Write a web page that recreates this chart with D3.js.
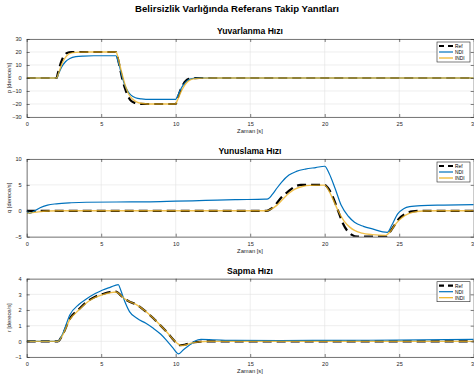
<!DOCTYPE html>
<html><head><meta charset="utf-8">
<script src="https://cdn.jsdelivr.net/npm/d3@7"></script>
<style>body{margin:0;background:#fff}svg{display:block}text{font-family:"Liberation Sans",Arial,sans-serif}</style>
</head><body>
<script>
// ---- data (time [s], value [deg/s]) ----
const xTicks = [0,5,10,15,20,25,30];
const seriesNames = ["Ref","NDI","INDI"];
const titles = ["Yuvarlanma Hızı","Yunuslama Hızı","Sapma Hızı"];
const yLabels = ["p [derece/s]","q [derece/s]","r [derece/s]"];
const pTicks = [-30,-20,-10,0,10,20,30];
const qTicks = [-5,0,5,10];
const rTicks = [-1,0,1,2,3,4];

const pRef = [[0,0],[2,0],[2.1,4],[2.3,12],[2.5,17],[2.7,19.3],[3,20],[6,20],[6.1,16],[6.25,8],[6.4,0],[6.6,-8],[6.8,-14],[7.0,-17.5],[7.3,-19.3],[7.6,-19.9],[8,-20],[10,-20],[10.1,-16.5],[10.3,-10],[10.5,-5],[10.7,-2],[10.9,-0.7],[11.2,-0.1],[11.6,0],[30,0]];
const pNDI = [[0,0],[2,0],[2.15,3.5],[2.35,8.5],[2.6,12.5],[2.9,15],[3.3,16.4],[3.8,16.9],[4.5,17.1],[6,17.1],[6.1,14],[6.25,8],[6.4,1],[6.6,-6],[6.8,-10.5],[7.0,-13.2],[7.3,-15.2],[7.7,-16.1],[8.3,-16.5],[10,-16.5],[10.1,-14.5],[10.3,-9.5],[10.5,-5.5],[10.7,-2.8],[10.9,-1.2],[11.2,-0.3],[11.6,0],[30,0]];
const pINDI = [[0,0],[2,0],[2.15,4],[2.35,10.5],[2.55,15],[2.8,18.3],[3.1,19.5],[3.6,19.9],[4.2,20],[6,20],[6.1,17],[6.25,10],[6.45,1],[6.65,-7],[6.85,-12.5],[7.1,-16.2],[7.4,-18.5],[7.8,-19.6],[8.4,-20],[10,-20],[10.1,-17.5],[10.3,-12],[10.5,-7.5],[10.7,-4],[10.95,-1.6],[11.3,-0.5],[11.8,-0.1],[12.5,0],[30,0]];

const qRef = [[0,0],[16.1,0],[16.4,0.4],[16.7,1.2],[17.1,2.6],[17.5,3.6],[17.9,4.5],[18.4,5],[20,5],[20.2,4.5],[20.5,3.0],[20.9,0],[21.2,-2.3],[21.5,-3.8],[21.8,-4.6],[22.2,-5],[24.1,-5],[24.4,-4],[24.7,-2.7],[25.0,-1.5],[25.4,-0.6],[25.9,-0.1],[26.5,0],[30,0]];
const qNDI = [[0,0],[0.2,-0.5],[0.5,-0.1],[0.9,0.6],[1.4,1.1],[2,1.35],[3,1.55],[4,1.65],[6,1.7],[8,1.72],[10,1.85],[12,2.0],[14,2.15],[16,2.25],[16.2,2.3],[16.5,3.2],[16.8,4.4],[17.1,5.5],[17.6,6.9],[18.1,7.6],[18.7,8.05],[19.4,8.35],[20,8.6],[20.3,7.2],[20.7,4.3],[21.1,1.1],[21.6,-1.1],[22.0,-2.2],[22.6,-3.0],[23.2,-3.5],[24.2,-4.15],[24.5,-2.8],[24.9,-0.6],[25.3,0.4],[25.7,0.8],[26.5,1.0],[28,1.1],[30,1.2]];
const qINDI = [[0,-0.5],[0.3,-0.4],[0.8,-0.2],[1.5,-0.05],[2.2,0],[16.1,0],[16.4,0.3],[16.8,1.1],[17.2,2.3],[17.6,3.4],[18,4.2],[18.5,4.7],[19,4.9],[20,4.95],[20.2,4.3],[20.5,2.6],[20.9,0],[21.3,-2],[21.7,-3.2],[22.0,-3.8],[22.5,-4.3],[23.2,-4.6],[24.1,-4.75],[24.4,-4.0],[24.7,-2.8],[25.0,-1.8],[25.4,-0.9],[25.9,-0.3],[26.6,-0.05],[27.5,0],[30,0]];

const rRef = [[0,0],[2.1,0],[2.4,0.4],[2.9,1.45],[3.5,2.05],[4.0,2.5],[4.6,2.85],[5.1,3.02],[5.6,3.15],[6.0,3.18],[6.3,2.95],[6.6,2.7],[6.9,2.53],[7.3,2.38],[7.6,2.2],[8.0,1.9],[8.5,1.47],[9.0,1.0],[9.4,0.6],[9.8,0.15],[10.1,-0.15],[10.3,-0.25],[10.6,-0.22],[11.0,-0.1],[11.5,-0.03],[12,0],[30,0]];
const rNDI = [[0,0],[2.1,0],[2.4,0.45],[2.9,1.7],[3.5,2.35],[4.0,2.7],[4.6,3.05],[5.1,3.28],[5.6,3.45],[6.15,3.62],[6.3,3.3],[6.5,2.75],[6.9,1.9],[7.4,1.47],[8.0,1.15],[8.5,0.83],[9.0,0.45],[9.4,0.05],[9.8,-0.4],[10.2,-0.8],[10.5,-0.55],[11.0,-0.19],[11.3,0.02],[11.7,0.12],[12.5,0.1],[14,0.06],[17,0.05],[20,0.06],[25,0.08],[30,0.12]];
const rINDI = [[0,0],[2.1,0],[2.4,0.38],[2.9,1.4],[3.5,2.0],[4.0,2.45],[4.6,2.8],[5.1,2.98],[5.6,3.1],[6.0,3.15],[6.3,2.95],[6.6,2.7],[6.9,2.53],[7.3,2.38],[7.6,2.2],[8.0,1.9],[8.5,1.47],[9.0,1.0],[9.4,0.6],[9.8,0.15],[10.1,-0.12],[10.4,-0.27],[10.7,-0.22],[11.1,-0.1],[11.6,-0.03],[12.2,0],[30,0]];

const panels = [
  {data:[pRef,pNDI,pINDI], ticks:pTicks, dom:[-30,30], top:39, bot:117},
  {data:[qRef,qNDI,qINDI], ticks:qTicks, dom:[-5,10], top:159, bot:236.7},
  {data:[rRef,rNDI,rINDI], ticks:rTicks, dom:[-1,4], top:278.7, bot:357}
];
const colors = ["#000000","#0072BD","#EDB120"];

const W=474,H=383, L=26.7, R=473.7;
const svg = d3.select("body").append("svg").attr("width",W).attr("height",H);
svg.append("text").attr("x",237).attr("y",12).attr("text-anchor","middle")
  .attr("font-weight","bold").attr("font-size",9.6).attr("fill","#000").text("Belirsizlik Varlığında Referans Takip Yanıtları");

const x = d3.scaleLinear().domain([0,30]).range([L,R]);
const fmt = d3.format("d");

panels.forEach((P,i)=>{
  const y = d3.scaleLinear().domain(P.dom).range([P.bot,P.top]);
  const g = svg.append("g");
  // grid
  g.selectAll(".gx").data(xTicks).join("line").attr("x1",d=>x(d)).attr("x2",d=>x(d))
    .attr("y1",P.top).attr("y2",P.bot).attr("stroke","#e3e3e3").attr("stroke-width",0.6);
  g.selectAll(".gy").data(P.ticks).join("line").attr("x1",L).attr("x2",R)
    .attr("y1",d=>y(d)).attr("y2",d=>y(d)).attr("stroke","#e3e3e3").attr("stroke-width",0.6);
  // lines
  const clipId="clip"+i;
  svg.append("clipPath").attr("id",clipId).append("rect").attr("x",L).attr("y",P.top).attr("width",R-L).attr("height",P.bot-P.top);
  const line = d3.line().x(d=>x(d[0])).y(d=>y(d[1])).curve(d3.curveMonotoneX);
  const lg = g.append("g").attr("clip-path",`url(#${clipId})`);
  lg.append("path").attr("d",line(P.data[0])).attr("fill","none").attr("stroke",colors[0]).attr("stroke-width",2.2).attr("stroke-dasharray","9,5");
  lg.append("path").attr("d",line(P.data[1])).attr("fill","none").attr("stroke",colors[1]).attr("stroke-width",1.2);
  lg.append("path").attr("d",line(P.data[2])).attr("fill","none").attr("stroke",colors[2]).attr("stroke-width",1.4).attr("stroke-opacity",0.8);
  // axes
  const ax = g.append("g").attr("transform",`translate(0,${P.bot})`)
    .call(d3.axisBottom(x).tickValues(xTicks).tickFormat(fmt).tickSizeInner(-3).tickSizeOuter(0).tickPadding(5));
  const axT = g.append("g").attr("transform",`translate(0,${P.top})`)
    .call(d3.axisTop(x).tickValues(xTicks).tickSizeInner(-3).tickSizeOuter(0).tickFormat(""));
  const ay = g.append("g").attr("transform",`translate(${L},0)`)
    .call(d3.axisLeft(y).tickValues(P.ticks).tickFormat(fmt).tickSizeInner(-3).tickSizeOuter(0).tickPadding(5));
  const ayR = g.append("g").attr("transform",`translate(${R},0)`)
    .call(d3.axisRight(y).tickValues(P.ticks).tickSizeInner(-3).tickSizeOuter(0).tickFormat(""));
  [ax,axT,ay,ayR].forEach(a=>{
    a.select(".domain").attr("stroke","#262626").attr("stroke-width",0.6);
    a.selectAll(".tick line").attr("stroke","#262626").attr("stroke-width",0.6);
    a.selectAll("text").attr("font-size",5.6).attr("fill","#262626").attr("font-family","Liberation Sans, Arial, sans-serif");
  });
  // titles
  svg.append("text").attr("x",250).attr("y",P.top-5).attr("text-anchor","middle")
    .attr("font-weight","bold").attr("font-size",8.6).attr("fill","#000").text(titles[i]);
  svg.append("text").attr("x",250).attr("y",P.bot+16).attr("text-anchor","middle")
    .attr("font-size",5.8).attr("fill","#262626").text("Zaman [s]");
  svg.append("text").attr("transform",`translate(11,${(P.top+P.bot)/2}) rotate(-90)`).attr("text-anchor","middle")
    .attr("font-size",5.8).attr("fill","#262626").text(yLabels[i]);
  // legend
  const lx=437, ly=P.top+3, lw=33, lh=20;
  const leg = svg.append("g");
  leg.append("rect").attr("x",lx).attr("y",ly).attr("width",lw).attr("height",lh).attr("fill","#fff").attr("stroke","#262626").attr("stroke-width",0.6);
  seriesNames.forEach((s,k)=>{
    const yy = ly+4+k*6;
    leg.append("line").attr("x1",lx+2).attr("x2",lx+16).attr("y1",yy).attr("y2",yy)
      .attr("stroke",colors[k]).attr("stroke-width",k===0?2.2:1.2)
      .attr("stroke-dasharray",k===0?"5,4":null);
    leg.append("text").attr("x",lx+18).attr("y",yy+1.8).attr("font-size",4.8).attr("fill","#000").text(s);
  });
});
</script>
</body></html>
